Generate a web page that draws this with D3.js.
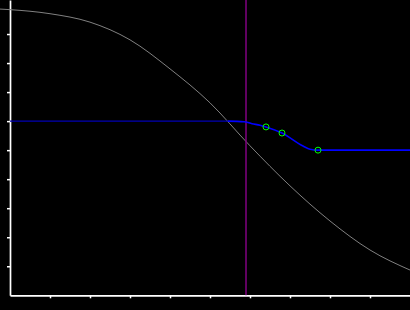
<!DOCTYPE html>
<html>
<head>
    <meta charset="utf-8">
    <script src="https://d3js.org/d3.v7.min.js"></script>
    <style>
        html, body { margin: 0; padding: 0; background: #000; }
        svg { display: block; }
    </style>
</head>
<body>
    <script>
        // descending curve
        var curveX = [-0.25, 0, 1, 2, 3, 4, 5, 6, 7, 8, 9, 10];
        var curveY = [0.986, 0.984, 0.970, 0.941, 0.880, 0.780, 0.663, 0.515, 0.377, 0.256, 0.156, 0.087];

        // thin threshold line and blue line
        var baseX = [0, 5.45];
        var baseY = [0.6, 0.6];
        var lineX = [5.45, 5.85, 6.05, 6.25, 6.4, 6.8, 7.325, 7.5, 7.7, 10];
        var lineY = [0.6, 0.598, 0.591, 0.586, 0.580, 0.559, 0.514, 0.503, 0.5, 0.5];

        // green markers
        var markX = [6.4, 6.8, 7.7];
        var markY = [0.580, 0.559, 0.5];

        // purple marker line
        var vLineX = 5.9;

        var xTicks = [1, 2, 3, 4, 5, 6, 7, 8, 9];
        var yTicks = [0.1, 0.2, 0.3, 0.4, 0.5, 0.6, 0.7, 0.8, 0.9];

        var width = 410, height = 310;

        var svg = d3.select("body").append("svg")
            .attr("width", width)
            .attr("height", height)
            .style("background", "#000");

        var x = d3.scaleLinear().domain([0, 10]).range([10, 410]);
        var y = d3.scaleLinear().domain([0, 295 / 290]).range([295.3, 0]);

        // axes
        var xAxis = svg.append("g")
            .attr("transform", "translate(0,295.3)")
            .call(d3.axisBottom(x).tickValues(xTicks).tickSize(3).tickSizeOuter(0).tickFormat(""));
        var yAxis = svg.append("g")
            .attr("transform", "translate(10,0)")
            .call(d3.axisLeft(y).tickValues(yTicks).tickSize(3).tickSizeOuter(0).tickFormat(""));

        [xAxis, yAxis].forEach(function (g) {
            g.select(".domain").attr("stroke", "#fff").attr("stroke-width", 1.7);
            g.selectAll(".tick line").attr("stroke", "#fff").attr("stroke-width", 1.5);
        });

        var toPoints = function (xs, ys) {
            return xs.map(function (d, i) { return [d, ys[i]]; });
        };
        var line = d3.line()
            .x(function (d) { return x(d[0]); })
            .y(function (d) { return y(d[1]); });

        // gray curve
        svg.append("path")
            .datum(toPoints(curveX, curveY))
            .attr("fill", "none")
            .attr("stroke", "#808080")
            .attr("stroke-width", 1)
            .attr("d", line.curve(d3.curveMonotoneX));

        // purple vertical line
        svg.append("line")
            .attr("x1", x(vLineX)).attr("x2", x(vLineX))
            .attr("y1", 0).attr("y2", y(0))
            .attr("stroke", "#800080")
            .attr("stroke-width", 1.5);

        // thin dark blue threshold
        svg.append("path")
            .datum(toPoints(baseX, baseY))
            .attr("fill", "none")
            .attr("stroke", "#0000b4")
            .attr("stroke-width", 1.2)
            .attr("d", line.curve(d3.curveLinear));

        // blue line
        svg.append("path")
            .datum(toPoints(lineX, lineY))
            .attr("fill", "none")
            .attr("stroke", "#0000ff")
            .attr("stroke-width", 1.6)
            .attr("d", line.curve(d3.curveMonotoneX));

        // markers
        svg.selectAll(".mark")
            .data(toPoints(markX, markY))
            .join("circle")
            .attr("class", "mark")
            .attr("cx", function (d) { return x(d[0]); })
            .attr("cy", function (d) { return y(d[1]); })
            .attr("r", 3)
            .attr("fill", "none")
            .attr("stroke", "#00ff00")
            .attr("stroke-width", 1);
    </script>
</body>
</html>
